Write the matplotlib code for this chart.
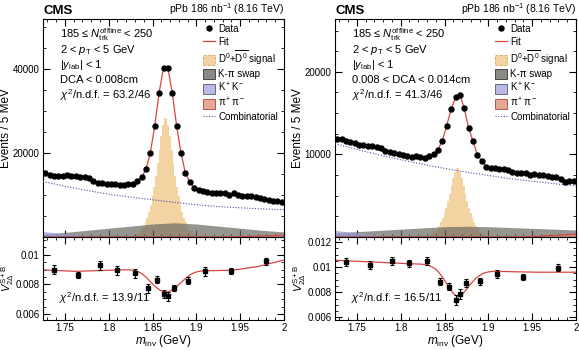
import matplotlib
matplotlib.use("Agg")
import matplotlib.pyplot as plt
import numpy as np
from matplotlib.ticker import MultipleLocator, FuncFormatter
from matplotlib.lines import Line2D
from matplotlib.patches import Patch

plt.rcParams['font.family'] = ['Liberation Sans', 'DejaVu Sans']
plt.rcParams['mathtext.fontset'] = 'custom'
plt.rcParams['mathtext.rm'] = 'Liberation Sans'
plt.rcParams['mathtext.it'] = 'Liberation Sans:italic'
plt.rcParams['mathtext.bf'] = 'Liberation Sans:bold'

# ---- mass spectrum, 5 MeV bins (centres 1.7275 ... 1.9975) ----
mass = np.arange(55) * 0.005 + 1.7275

data_left = [15240, 14760, 14600, 14600, 14600, 14760, 14440, 14440, 14280, 14200,
             14130, 13400, 13000, 12860, 12700, 12620, 12540, 12460, 12380, 12540,
             12700, 13250, 14200, 16200, 20100, 26500, 34400, 40400, 40300, 34400,
             26500, 20000, 15300, 13100, 11740, 11190, 11030, 10800, 10400, 10400,
             10400, 10400, 10100, 10400, 10100, 9840, 9680, 9680, 9600, 9290,
             9050, 8880, 8650, 8490, 8260]
data_right = [11900, 11860, 11590, 11470, 11390, 11180, 11180, 10990, 11070, 10940,
              10790, 10390, 10270, 10190, 10070, 9920, 9800, 9680, 9800, 9680,
              9590, 9800, 10070, 10590, 11660, 13500, 15480, 16900, 17200, 15570,
              13180, 11590, 9920, 9200, 8520, 8400, 8320, 8200, 8280, 8120,
              7920, 7800, 7800, 7800, 7530, 7680, 7530, 7490, 7330, 7290,
              7210, 7000, 6690, 6810, 6810]

# signal template, 2 MeV bins from 1.823 to 1.907
sig_edges = np.arange(43) * 0.002 + 1.823
sig_left = [70, 130, 230, 380, 600, 900, 1350, 1900, 2600, 3500, 4600, 6000, 7700, 9700,
            12000, 14600, 17600, 20800, 24000, 26600, 28300, 28300, 26600, 24000, 20800,
            17600, 14600, 12000, 9700, 7700, 6000, 4600, 3500, 2600, 1900, 1350, 900,
            600, 380, 230, 130, 70]
sig_right = [20, 40, 70, 110, 180, 270, 400, 570, 770, 1040, 1370, 1790, 2290, 2890,
             3570, 4340, 5240, 6190, 7140, 7910, 8400, 8400, 7910, 7140, 6190, 5240,
             4340, 3570, 2890, 2290, 1790, 1370, 1040, 770, 570, 400, 270, 180, 110,
             70, 40, 20]

# background components read every 25 MeV
knots = np.arange(12) * 0.025 + 1.725
comb_left = [13200, 12100, 11100, 10200, 9500, 8900, 8250, 7700, 7250, 6950, 6700, 6500]
comb_right = [11300, 10600, 9950, 9350, 8800, 8300, 7850, 7450, 7050, 6750, 6450, 6200]
swap_left = [650, 1100, 1600, 2100, 2600, 3100, 3400, 3100, 2600, 2100, 1600, 1200]
swap_right = [500, 650, 800, 950, 1100, 1250, 1300, 1250, 1150, 1050, 950, 850]
kk_left = [1300, 800, 300, 0, 0, 0, 0, 0, 0, 0, 0, 0]
kk_right = [800, 500, 200, 0, 0, 0, 0, 0, 0, 0, 0, 0]
pipi_left = [0, 0, 0, 0, 0, 0, 0, 0, 0, 80, 250, 450]
pipi_right = [0, 0, 0, 0, 0, 0, 0, 0, 0, 60, 180, 330]

# ---- v2 vs mass ----
v2_mass = [1.7375, 1.765, 1.79, 1.81, 1.83, 1.845, 1.855, 1.8625, 1.8675,
           1.875, 1.89, 1.91, 1.94, 1.98]
v2_left = [0.00899, 0.00863, 0.00929, 0.00895, 0.00875, 0.00774, 0.00832, 0.00735,
           0.00720, 0.00776, 0.00825, 0.00888, 0.00892, 0.00955]
v2err_left = [0.00029, 0.00022, 0.00030, 0.00030, 0.00030, 0.00030, 0.00025, 0.00028,
              0.00030, 0.00022, 0.00025, 0.00030, 0.00022, 0.00022]
v2_right = [0.01040, 0.01018, 0.01050, 0.01030, 0.01050, 0.00885, 0.00845, 0.00740,
            0.00790, 0.00874, 0.00888, 0.00944, 0.00920, 0.00997]
v2err_right = [0.00032, 0.00030, 0.00030, 0.00030, 0.00030, 0.00030, 0.00030, 0.00040,
               0.00040, 0.00030, 0.00028, 0.00030, 0.00022, 0.00025]

# fit: v2 = a*v2sig + (1-a)*v2bkg(m), a = signal fraction
v2bkg_mass_left = [1.725, 1.76, 1.81, 1.84, 1.89, 1.94, 1.97, 2.0]
v2bkg_left = [0.00898, 0.00888, 0.00898, 0.00900, 0.00890, 0.00895, 0.00920, 0.00965]
v2sig_left = 0.00688
v2bkg_mass_right = [1.725, 1.80, 1.84, 1.89, 1.95, 2.0]
v2bkg_right = [0.01055, 0.01030, 0.01020, 0.00970, 0.00960, 0.00960]
v2sig_right = 0.00518

panels = [
    dict(data=data_left, sig=sig_left, comb=comb_left, swap=swap_left, kk=kk_left,
         pipi=pipi_left, v2=v2_left, v2err=v2err_left, bm=v2bkg_mass_left,
         bv=v2bkg_left, v2s=v2sig_left, ytop=52000, yt=[20000, 40000], ymin=5000,
         v2lim=(0.0056, 0.0112), v2t=[0.006, 0.008, 0.01],
         text=["185 ≤ $N_{\\mathrm{trk}}^{\\mathrm{offline}}$ < 250",
               "2 < $p_{\\mathrm{T}}$ < 5 GeV", "|$y_{\\mathrm{lab}}$| < 1",
               "DCA < 0.008cm", "$\\chi^2$/n.d.f. = 63.2/46"],
         chi="$\\chi^2$/n.d.f. = 13.9/11", left=43),
    dict(data=data_right, sig=sig_right, comb=comb_right, swap=swap_right, kk=kk_right,
         pipi=pipi_right, v2=v2_right, v2err=v2err_right, bm=v2bkg_mass_right,
         bv=v2bkg_right, v2s=v2sig_right, ytop=26400, yt=[10000, 20000], ymin=2500,
         v2lim=(0.0058, 0.0124), v2t=[0.006, 0.008, 0.01, 0.012],
         text=["185 ≤ $N_{\\mathrm{trk}}^{\\mathrm{offline}}$ < 250",
               "2 < $p_{\\mathrm{T}}$ < 5 GeV", "|$y_{\\mathrm{lab}}$| < 1",
               "0.008 < DCA < 0.014cm", "$\\chi^2$/n.d.f. = 41.3/46"],
         chi="$\\chi^2$/n.d.f. = 16.5/11", left=335),
]

W, H = 579, 350
fig = plt.figure(figsize=(W / 100, H / 100), dpi=100)

c_sig = '#f3d3a2'
c_swap = '#6a6a62'
c_kk = '#9a9ad6'
c_pipi = '#d88a78'
c_fit = '#d9453f'
c_comb = '#4a4ab0'

fmt = FuncFormatter(lambda v, p: '%g' % v)


def style(ax):
    ax.tick_params(which='both', direction='in', top=True, right=True, labelsize=7)
    ax.tick_params(which='major', length=5, pad=2.5)
    ax.tick_params(which='minor', length=2.5)
    ax.xaxis.set_major_locator(MultipleLocator(0.05))
    ax.xaxis.set_minor_locator(MultipleLocator(0.01))
    ax.set_xlim(1.725, 2.0)


for p in panels:
    x0 = p['left'] / W
    w = 241 / W
    ax = fig.add_axes([x0, 1 - 237 / H, w, 218 / H])
    bx = fig.add_axes([x0, 1 - 320 / H, w, 83 / H])

    mf = np.linspace(1.725, 2.0, 400)
    centres = (sig_edges[:-1] + sig_edges[1:]) / 2
    sig_f = np.interp(mf, centres, p['sig'], left=0, right=0)
    comb_f = np.interp(mf, knots, p['comb'])
    swap_f = np.interp(mf, knots, p['swap'])
    kk_f = np.interp(mf, knots, p['kk'])
    pipi_f = np.interp(mf, knots, p['pipi'])

    ax.stairs(p['sig'], sig_edges, fill=True, color=c_sig, zorder=1)
    ax.fill_between(mf, 0, swap_f, color=c_swap, alpha=0.7, lw=0, zorder=2)
    ax.fill_between(mf, 0, kk_f, color=c_kk, alpha=0.75, lw=0, zorder=2)
    ax.fill_between(mf, 0, pipi_f, color=c_pipi, alpha=0.8, lw=0, zorder=2)
    ax.plot(mf, pipi_f, color=c_fit, lw=0.8, zorder=2)
    ax.plot(mf, comb_f, color=c_comb, lw=0.8, ls=(0, (1, 1.5)), zorder=3)
    ax.plot(mass, p['data'], color=c_fit, lw=0.9, zorder=4)
    ax.plot(mass, p['data'], 'o', color='black', ms=3.6, zorder=5)

    style(ax)
    ax.set_ylim(0, p['ytop'])
    ax.set_yticks(p['yt'])
    ax.yaxis.set_minor_locator(MultipleLocator(p['ymin']))
    ax.tick_params(labelbottom=False)
    ax.set_ylabel('Events / 5 MeV', fontsize=8.5)
    ax.yaxis.set_label_coords(-0.128, 0.5)

    for k, t in enumerate(p['text']):
        ax.text(0.07, 0.93 - k * 0.07, t, transform=ax.transAxes, fontsize=8, va='center')

    handles = [
        Line2D([], [], ls='none', marker='o', color='black', ms=3.6),
        Line2D([], [], color=c_fit, lw=0.9),
        Patch(facecolor=c_sig, edgecolor='#d9a860', ls='--', lw=0.6),
        Patch(facecolor='#8a8a84', edgecolor='#333333', lw=0.6),
        Patch(facecolor='#b9b9e6', edgecolor='#555577', lw=0.6),
        Patch(facecolor='#e2a898', edgecolor='#b04030', lw=0.6),
        Line2D([], [], color=c_comb, lw=0.8, ls=(0, (1, 1.5))),
    ]
    labels = ['Data', 'Fit', '$\\mathrm{D}^0$+$\\overline{\\mathrm{D}^0}$ signal',
              'K-π swap', 'K$^+$K$^-$', 'π$^+$π$^-$', 'Combinatorial']
    ax.legend(handles, labels, loc='upper left', bbox_to_anchor=(0.655, 0.985),
              frameon=False, fontsize=7, handlelength=1.3, handleheight=1.2,
              handletextpad=0.3, labelspacing=0.2, borderpad=0.2, borderaxespad=0)

    ax.text(0.0, 1.008, 'CMS', transform=ax.transAxes, fontsize=9.5,
            fontweight='bold', va='bottom', ha='left')
    ax.text(1.0, 1.008, 'pPb 186 nb$^{-1}$ (8.16 TeV)', transform=ax.transAxes,
            fontsize=7.5, va='bottom', ha='right')

    # v2 panel
    alpha = sig_f / (sig_f + comb_f + swap_f + kk_f + pipi_f)
    v2b = np.interp(mf, p['bm'], p['bv'])
    bx.plot(mf, alpha * p['v2s'] + (1 - alpha) * v2b, color=c_fit, lw=0.9)
    bx.errorbar(v2_mass, p['v2'], yerr=p['v2err'], fmt='s', color='black', ms=3.2,
                elinewidth=0.8, capsize=1.5, capthick=0.8)
    style(bx)
    bx.xaxis.set_major_formatter(fmt)
    bx.set_ylim(*p['v2lim'])
    bx.set_yticks(p['v2t'])
    bx.yaxis.set_minor_locator(MultipleLocator(0.0005))
    bx.yaxis.set_major_formatter(fmt)
    bx.set_ylabel('$V_{2\\Delta}^{\\mathrm{S+B}}$', fontsize=8)
    bx.yaxis.set_label_coords(-0.112, 0.5)
    bx.set_xlabel('$m_{\\mathrm{inv}}$ (GeV)', fontsize=8.5, labelpad=0)
    bx.text(0.065, 0.26, p['chi'], transform=bx.transAxes, fontsize=8, va='center')

fig.savefig('out.png', dpi=100)
